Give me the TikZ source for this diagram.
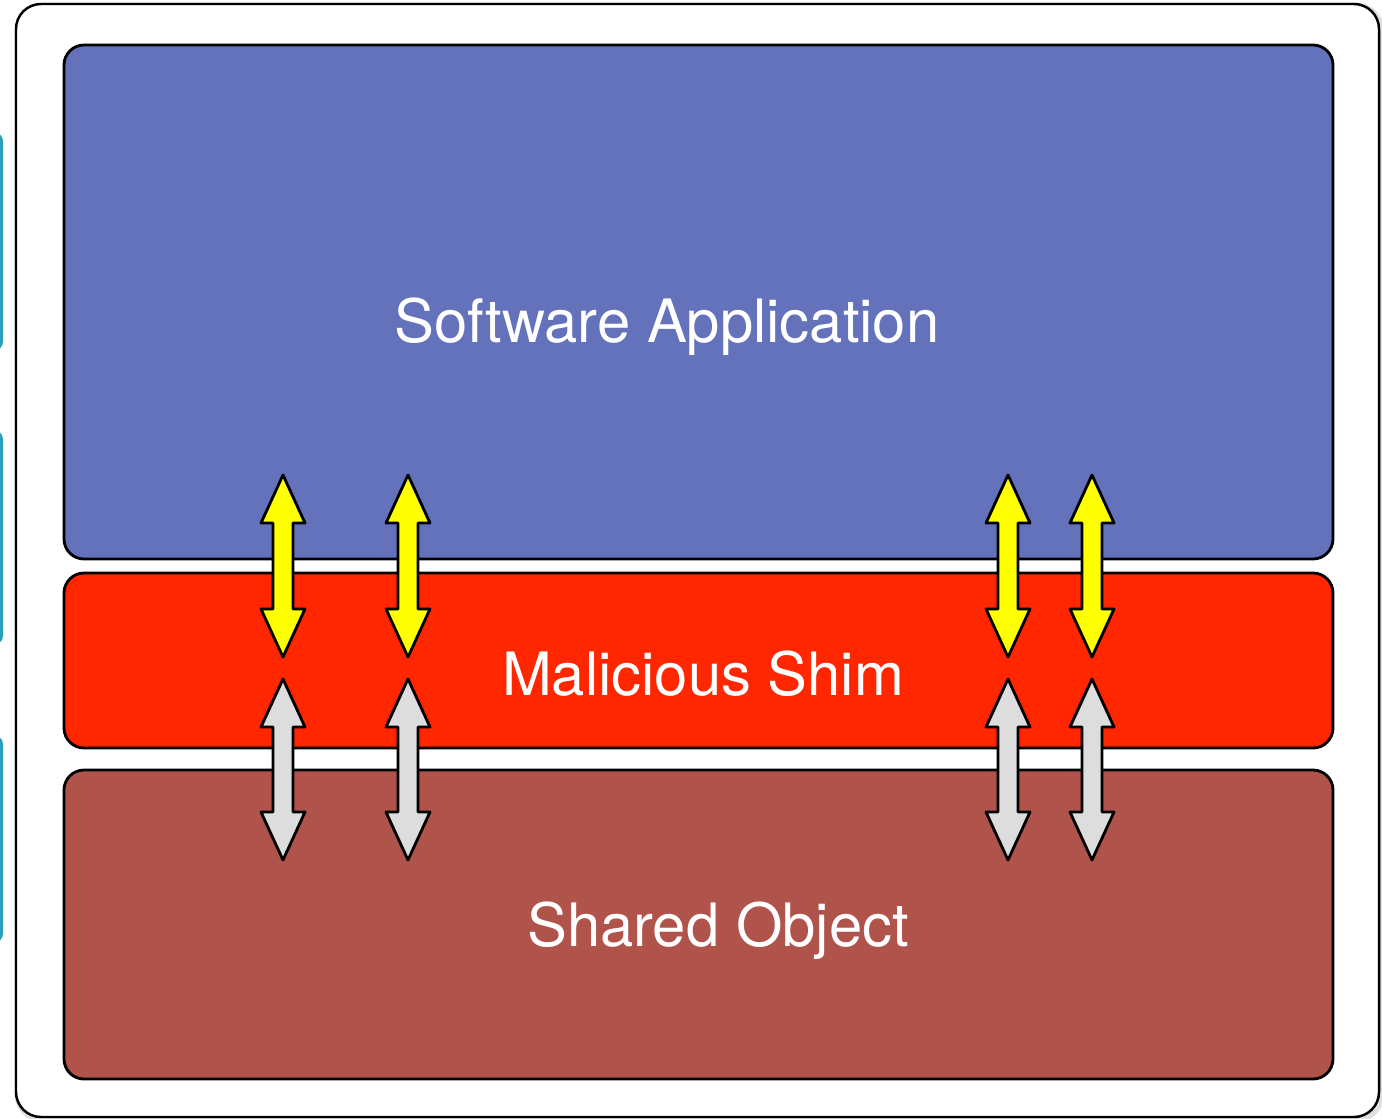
\documentclass[tikz,border=0pt]{standalone}
\usepackage{fontspec}
\setmainfont{TeX Gyre Heros}
\definecolor{appblue}{HTML}{6472BC}
\definecolor{shimred}{HTML}{FF2600}
\definecolor{sobrown}{HTML}{B0534A}
\definecolor{flowyellow}{HTML}{FFFF00}
\definecolor{flowgray}{HTML}{DDDDDD}
\definecolor{sideteal}{HTML}{2AA0B8}
\tikzset{
  layerbox/.style={draw=black, line width=0.8pt, rounded corners=0.2cm},
  layerlabel/.style={text=white, font=\fontsize{17}{20}\selectfont, anchor=base, inner sep=0pt},
  arrowline/.style={draw=black, line width=0.8pt, line join=round},
}
% double-headed block arrow: centre x, top tip y, bottom tip y, fill colour
\newcommand\blockarrow[4]{%
  \filldraw[arrowline, fill=#4]
    (#1,#2) -- ({#1+22},{#2+48}) -- ({#1+10},{#2+48}) -- ({#1+10},{#3-48})
    -- ({#1+22},{#3-48}) -- (#1,#3) -- ({#1-22},{#3-48}) -- ({#1-10},{#3-48})
    -- ({#1-10},{#2+48}) -- ({#1-22},{#2+48}) -- cycle;}
\begin{document}
\begin{tikzpicture}[x=0.01cm, y=-0.01cm]
  \useasboundingbox (0,0) rectangle (1382,1118);
  \fill[white] (0,0) rectangle (1382,1118);

  % edges of neighbouring panels peeking in at the left
  \foreach \ya/\yb in {133/350, 431/644, 736/942}
    \fill[sideteal, rounded corners=0.08cm] (-30,\ya) rectangle (3,\yb);

  % outer frame with a soft shadow
  \draw[black!12, line width=2pt, rounded corners=0.25cm] (18,6) rectangle (1381,1119);
  \draw[black, line width=0.7pt, fill=white, rounded corners=0.25cm] (16,4) rectangle (1379,1117);

  % the three layers
  \draw[layerbox, fill=appblue] (64,45) rectangle (1333,559);
  \draw[layerbox, fill=shimred] (64,573) rectangle (1333,748);
  \draw[layerbox, fill=sobrown] (64,770) rectangle (1333,1079);

  \node[layerlabel] (app)  at (667,342) {Software Application};
  \node[layerlabel] (shim) at (703,695) {Malicious Shim};
  \node[layerlabel] (so)   at (718,946) {Shared Object};

  % calls between application and shim, and between shim and shared object
  \foreach \x in {283, 408, 1008, 1092} {
    \blockarrow{\x}{475}{657}{flowyellow}
    \blockarrow{\x}{679}{860}{flowgray}
  }
\end{tikzpicture}
\end{document}
